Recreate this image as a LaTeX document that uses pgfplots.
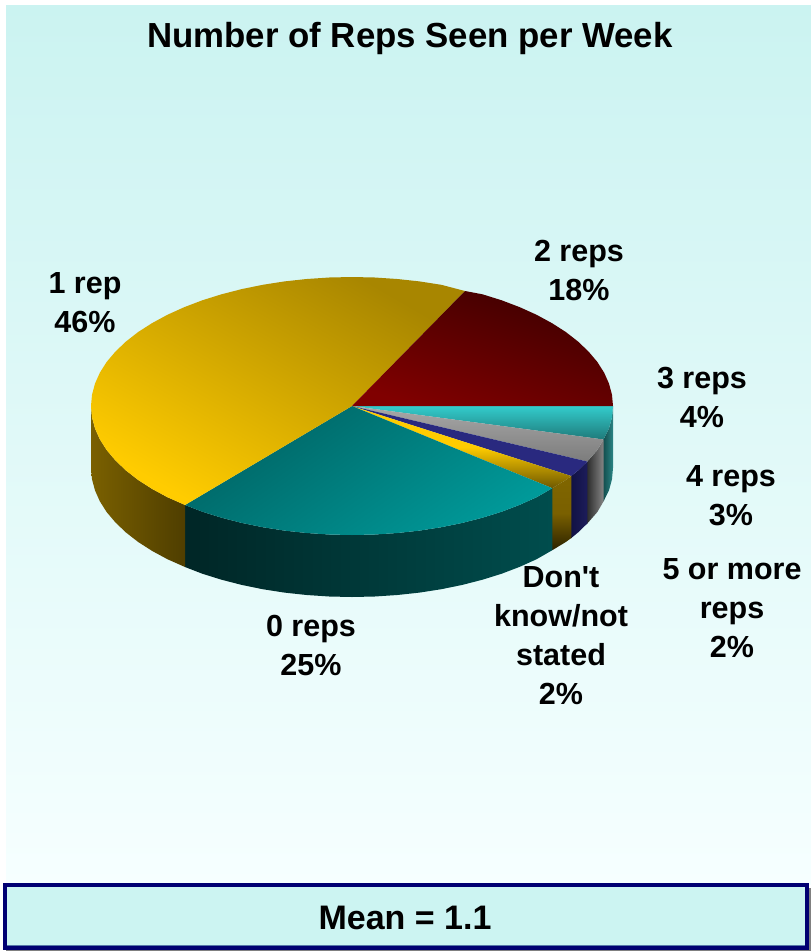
\documentclass[border=0pt]{standalone}
\usepackage{pgfplots}
\pgfplotsset{compat=1.18}
\usepackage{fontspec}
\setmainfont{Liberation Sans}
% same family without the TeX ligature mapping, so that ' stays straight
\newfontfamily\plainsans{Liberation Sans}[Ligatures=ResetAll]

\definecolor{bgtop}{HTML}{CBF3F1}
\definecolor{bgbot}{HTML}{F6FFFF}
\definecolor{boxfill}{HTML}{CCF4F2}
\definecolor{boxline}{HTML}{000072}
\definecolor{boxedge}{HTML}{5577AA}
\definecolor{boxshadow}{HTML}{808080}
% wall shades
\definecolor{cyanwallA}{HTML}{145050}
\definecolor{cyanwallB}{HTML}{2A8585}
\definecolor{greywallA}{HTML}{2E2E2E}
\definecolor{greywallB}{HTML}{858585}
\definecolor{navywallA}{HTML}{121245}
\definecolor{navywallB}{HTML}{1C1C5A}
\definecolor{dkwallA}{HTML}{806600}
\definecolor{dkwallM}{HTML}{7A6000}
\definecolor{dkwallB}{HTML}{2B2200}
\definecolor{tealwallA}{HTML}{002626}
\definecolor{tealwallB}{HTML}{004D4D}
\definecolor{goldwallA}{HTML}{7A6000}
\definecolor{goldwallB}{HTML}{4F3E00}
% face shades
\definecolor{cyanA}{HTML}{33CCCC}
\definecolor{cyanB}{HTML}{1F7A7A}
\definecolor{greyA}{HTML}{A8A8A8}
\definecolor{greyB}{HTML}{7C7C7C}
\definecolor{navyface}{HTML}{29297F}
\definecolor{goldA}{HTML}{FFCC00}
\definecolor{dkB}{HTML}{6E5800}
\definecolor{goldB}{HTML}{A88600}
\definecolor{tealA}{HTML}{009999}
\definecolor{tealB}{HTML}{006464}
\definecolor{redA}{HTML}{800000}
\definecolor{redB}{HTML}{3E0000}

\begin{document}
\begin{tikzpicture}[
  lbl/.style={font=\bfseries\fontsize{30.5}{39}\selectfont, align=center, text=black, inner sep=0pt},
]
\useasboundingbox (0,0) rectangle (811pt,951pt);
\begin{axis}[
  at={(0,0)}, anchor=south west,
  scale only axis, width=811pt, height=951pt,
  xmin=0, xmax=811, ymin=0, ymax=951, y dir=reverse,
  hide axis, clip=false,
  every axis plot/.append style={draw=none, mark=none, forget plot},
]

% panel background
\addplot[top color=bgtop, bottom color=bgbot] coordinates {(6,5)(811,5)(811,884)(6,884)} --cycle;

% outer wall of the disc
\addplot[left color=cyanwallA, right color=cyanwallB] coordinates {
  (613,406)(612,417.2)(609,428.4)(603.5,439.5)(603.5,501.5)(609,490.4)(612,479.2)(613,468)} --cycle;
\addplot[left color=greywallA, right color=greywallB] coordinates {
  (603.5,439.5)(597.3,450.1)(587.3,461.5)(587.3,523.5)(597.3,512.1)(603.5,501.5)} --cycle;
\addplot[left color=navywallA, right color=navywallB] coordinates {
  (587.3,461.5)(578,470.5)(571.3,476)(571.3,538)(578,532.5)(587.3,523.5)} --cycle;
\addplot[top color=dkwallA, bottom color=dkwallB, middle color=dkwallM] coordinates {
  (571.3,476)(565.8,480)(552.3,488.2)(552.3,550.2)(565.8,542)(571.3,538)} --cycle;
\addplot[left color=tealwallA, right color=tealwallB] coordinates {
  (552.3,488.2)(536.6,497.2)(519.8,504.8)(501.7,511.7)(482.5,517.7)(462.3,522.9)(441.3,527.2)
  (419.5,530.6)(397.3,533)(374.8,534.5)(352,535)(329.2,534.5)(306.7,533)(284.5,530.6)
  (262.7,527.2)(241.7,522.9)(221.5,517.7)(202.3,511.7)(185,505)
  (185,567)(202.3,573.7)(221.5,579.7)(241.7,584.9)(262.7,589.2)(284.5,592.6)(306.7,595)
  (329.2,596.5)(352,597)(374.8,596.5)(397.3,595)(419.5,592.6)(441.3,589.2)(462.3,584.9)
  (482.5,579.7)(501.7,573.7)(519.8,566.8)(536.6,559.2)(552.3,550.2)} --cycle;
\addplot[left color=goldwallA, right color=goldwallB] coordinates {
  (185,505)(167.4,497.2)(152.1,488.9)(138.2,480)(126,470.5)(115.5,460.5)(106.7,450.1)
  (99.9,439.4)(95,428.4)(92,417.2)(91,406)
  (91,468)(92,479.2)(95,490.4)(99.9,501.4)(106.7,512.1)(115.5,522.5)(126,532.5)
  (138.2,542)(152.1,550.9)(167.4,559.2)(185,567)} --cycle;

% top face: 3 reps 4%
\addplot[top color=cyanA, bottom color=cyanB] coordinates {
  (352,406)(613,406)(612,417.2)(609,428.4)(603.5,439.5)} --cycle;
% top face: 4 reps 3%
\addplot[top color=greyA, bottom color=greyB] coordinates {
  (352,406)(603.5,439.5)(597.3,450.1)(587.3,461.5)} --cycle;
% top face: 5 or more reps 2%
\addplot[fill=navyface] coordinates {
  (352,406)(587.3,461.5)(578,470.5)(571.3,476)} --cycle;
% top face: don't know/not stated 2%
\addplot[top color=goldA, bottom color=dkB, middle color=goldA] coordinates {
  (352,406)(571.3,476)(565.8,480)(552.3,488.2)} --cycle;
% top face: 0 reps 25%
\addplot[bottom color=tealA, top color=tealB, shading angle=35] coordinates {
  (352,406)(552.3,488.2)(536.6,497.2)(519.8,504.8)(501.7,511.7)(482.5,517.7)(462.3,522.9)
  (441.3,527.2)(419.5,530.6)(397.3,533)(374.8,534.5)(352,535)(329.2,534.5)(306.7,533)
  (284.5,530.6)(262.7,527.2)(241.7,522.9)(221.5,517.7)(202.3,511.7)(185,505)} --cycle;
% top face: 1 rep 46%
\addplot[bottom color=goldA, top color=goldB, shading angle=-30] coordinates {
  (352,406)(185,505)(167.4,497.2)(152.1,488.9)(138.2,480)(126,470.5)(115.5,460.5)(106.7,450.1)
  (99.9,439.4)(95,428.4)(92,417.2)(91,406)(92,394.8)(95,383.6)(99.9,372.6)(106.7,361.9)
  (115.5,351.5)(126,341.5)(138.2,332)(152.1,323.1)(167.4,314.8)(184.2,307.2)(202.3,300.3)
  (221.5,294.3)(241.7,289.1)(262.7,284.8)(284.5,281.4)(306.7,279)(329.2,277.5)(352,277)
  (374.8,277.5)(397.3,279)(419.5,281.4)(441.3,284.8)(465,291)} --cycle;
% top face: 2 reps 18%
\addplot[bottom color=redA, top color=redB, shading angle=-18] coordinates {
  (352,406)(465,291)(482.5,294.3)(501.7,300.3)(519.8,307.2)(536.6,314.8)(551.9,323.1)
  (565.8,332)(578,341.5)(588.5,351.5)(597.3,361.9)(604.1,372.6)(609,383.6)(612,394.8)(613,406)} --cycle;

% mean box with its drop shadow
\fill[boxshadow] (axis cs:6,888) rectangle (axis cs:811,951);
\draw[boxline, line width=4pt, fill=boxfill] (axis cs:5,885) rectangle (axis cs:807,948);
\draw[boxedge, line width=1pt] (axis cs:7,945.5) -- (axis cs:805,945.5);
\node[font=\bfseries\fontsize{34}{40}\selectfont, text=black, inner sep=0pt] at (axis cs:405,918) {Mean = 1.1};

% title and slice labels
\node[font=\bfseries\fontsize{34.8}{40}\selectfont, text=black, inner sep=0pt] at (axis cs:410,38) {Number of Reps Seen per Week};
\node[lbl] at (axis cs:579,270.5) {2 reps\\18\%};
\node[lbl] at (axis cs:85,303) {1 rep\\46\%};
\node[lbl] at (axis cs:702,397) {3 reps\\4\%};
\node[lbl] at (axis cs:731,496) {4 reps\\3\%};
\node[lbl] at (axis cs:732,608) {5 or more\\reps\\2\%};
\node[lbl] at (axis cs:561,636) {{\plainsans\bfseries Don't}\\know/not\\stated\\2\%};
\node[lbl] at (axis cs:311,645) {0 reps\\25\%};
\end{axis}
\end{tikzpicture}
\end{document}
